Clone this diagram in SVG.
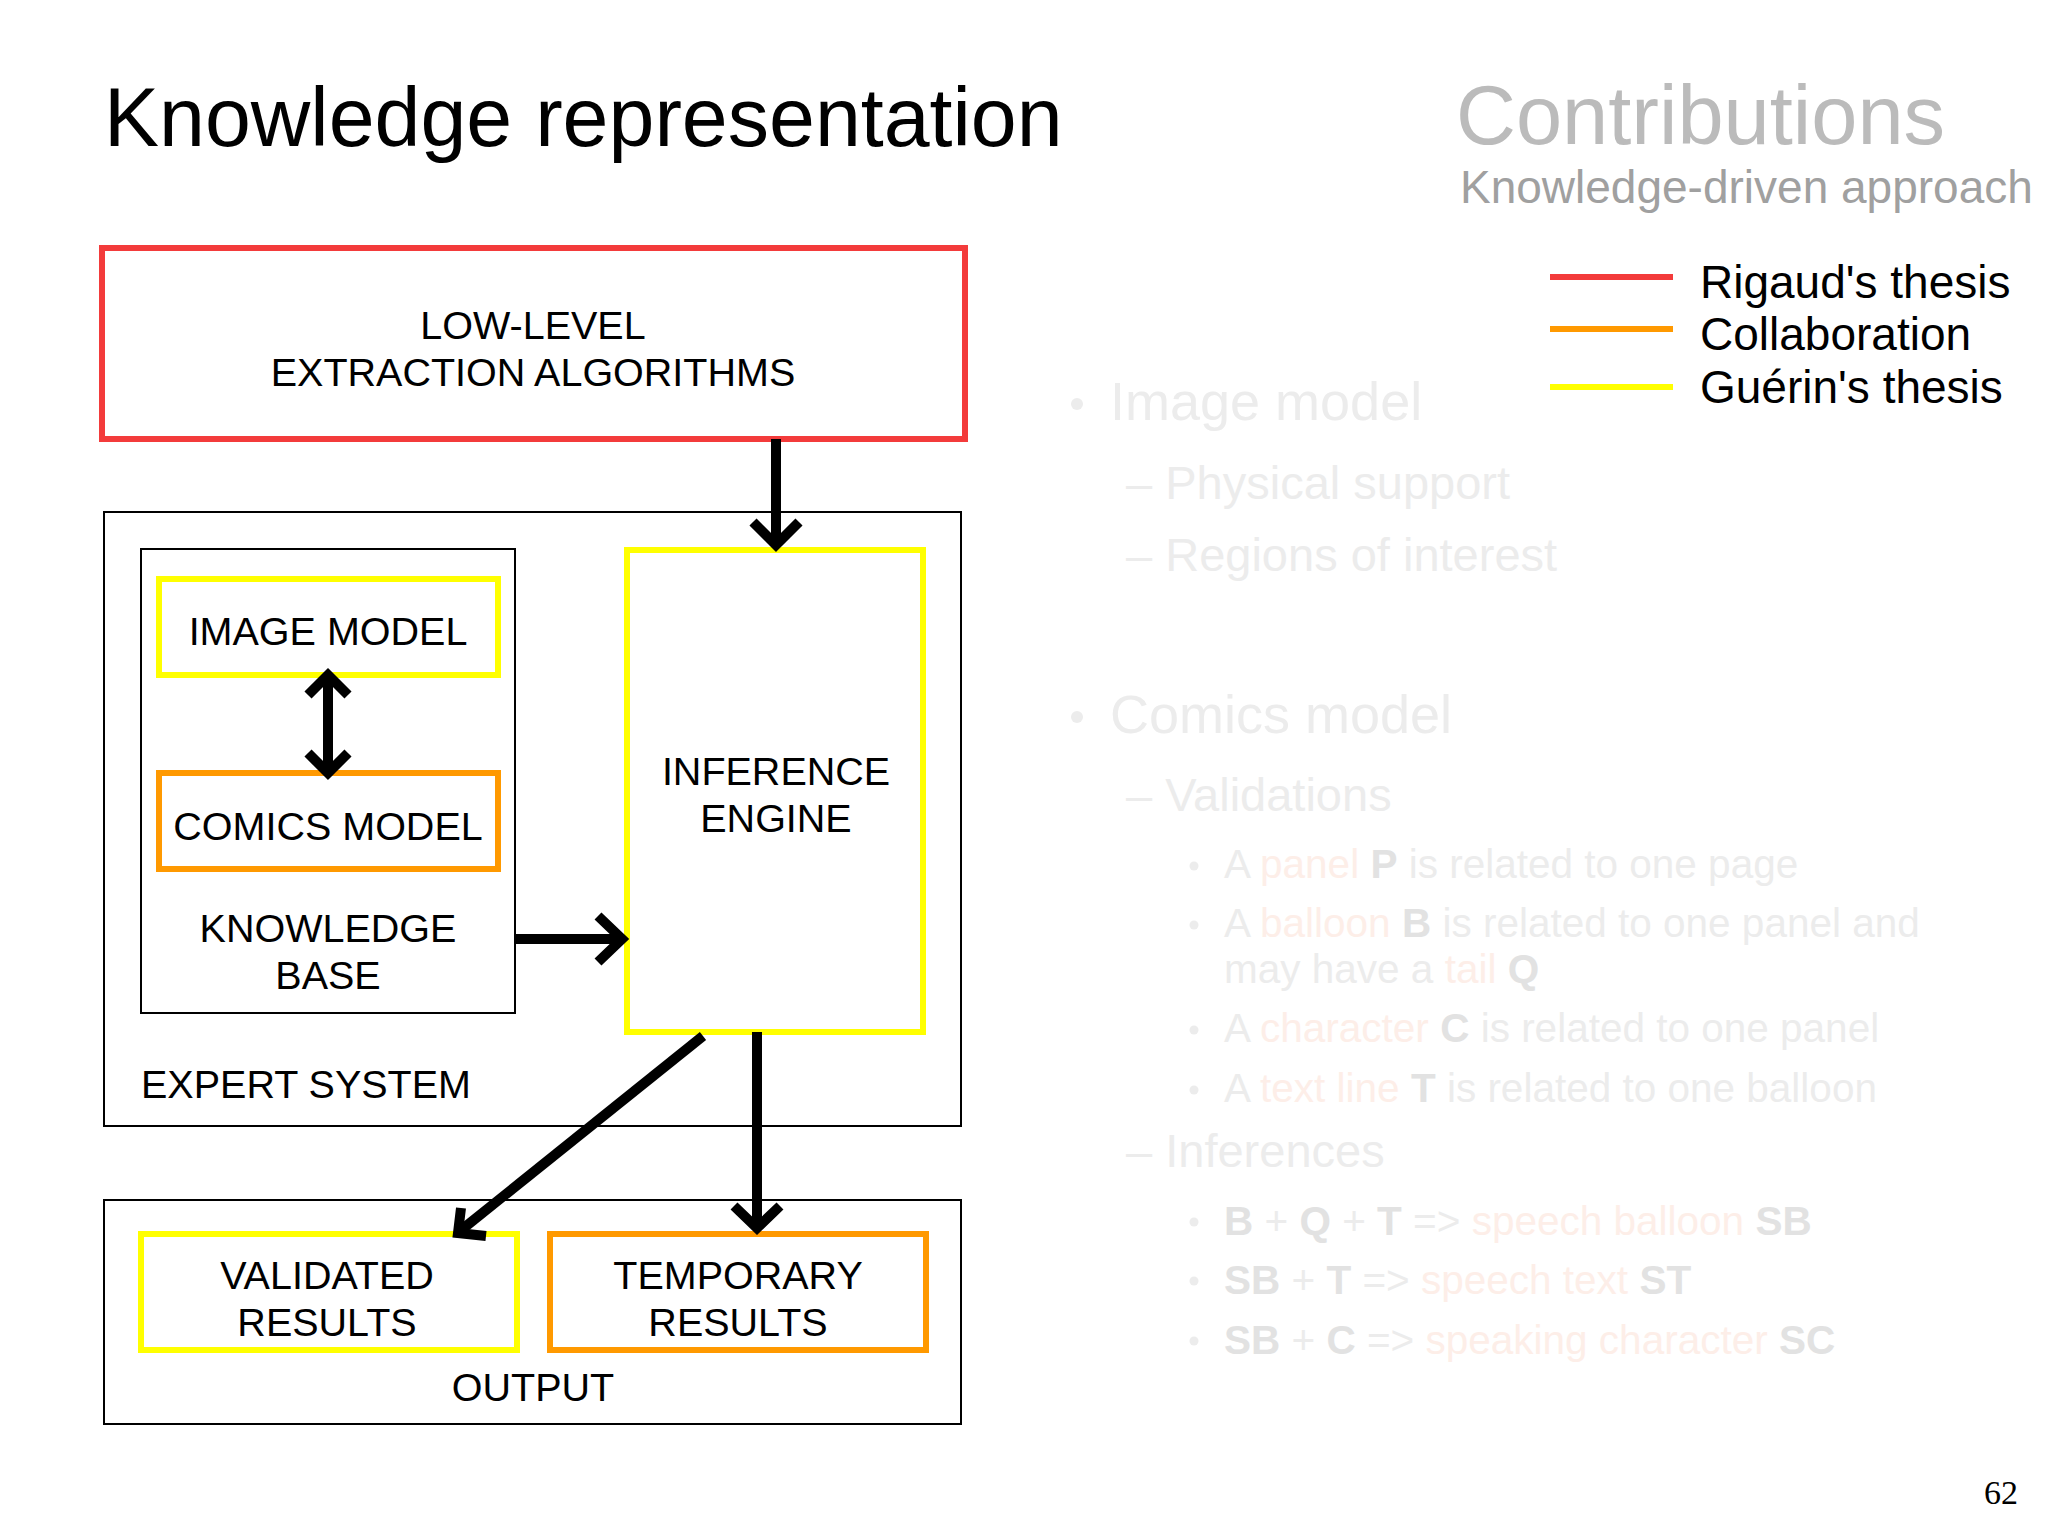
<svg xmlns="http://www.w3.org/2000/svg" width="2048" height="1535" viewBox="0 0 2048 1535">
<defs><style>
text{font-family:"Liberation Sans",Arial,sans-serif}
.lbl{font-size:39.5px;fill:#000;text-anchor:middle}
.thin{fill:#fff;stroke:#000;stroke-width:2}
.red{fill:#fff;stroke:#f33b3b;stroke-width:6}
.yel{fill:#fff;stroke:#ffff00;stroke-width:6}
.org{fill:#fff;stroke:#ff9900;stroke-width:6}
.arr{fill:none;stroke:#000;stroke-width:10}
.f1{fill:#ececec}.fo{fill:#fdeee8}.fb{fill:#e2e2e2;font-weight:bold}
</style></defs>
<rect width="2048" height="1535" fill="#fff"/>
<text x="104" y="146" font-size="82.5">Knowledge representation</text>
<text x="1456" y="144" font-size="83" fill="#bbbbbb">Contributions</text>
<text x="1460" y="203" font-size="46" fill="#a0a0a0">Knowledge-driven approach</text>
<g id="legend">
<line x1="1550" y1="277" x2="1673" y2="277" stroke="#f33b3b" stroke-width="6"/>
<line x1="1550" y1="329" x2="1673" y2="329" stroke="#ff9900" stroke-width="6"/>
<line x1="1550" y1="387" x2="1673" y2="387" stroke="#ffff00" stroke-width="6"/>
<text x="1700" y="298" font-size="46">Rigaud's thesis</text>
<text x="1700" y="350" font-size="46">Collaboration</text>
<text x="1700" y="403" font-size="46">Guérin's thesis</text>
</g>
<g id="faded">
<circle cx="1077" cy="404" r="6" fill="#ececec"/>
<text x="1110" y="420" font-size="54" class="f1">Image model</text>
<text x="1126" y="499" font-size="47" class="f1">–  Physical support</text>
<text x="1126" y="571" font-size="47" class="f1">–  Regions of interest</text>
<circle cx="1077" cy="717" r="6" fill="#ececec"/>
<text x="1110" y="733" font-size="54" class="f1">Comics model</text>
<text x="1126" y="811" font-size="47" class="f1">–  Validations</text>
<g fill="#ececec"><circle cx="1194" cy="866" r="4.5"/><circle cx="1194" cy="925" r="4.5"/><circle cx="1194" cy="1030" r="4.5"/><circle cx="1194" cy="1090" r="4.5"/><circle cx="1194" cy="1222" r="4.5"/><circle cx="1194" cy="1281" r="4.5"/><circle cx="1194" cy="1341" r="4.5"/></g>
<g font-size="40.5">
<text x="1224" y="878" class="f1">A <tspan class="fo">panel</tspan> <tspan class="fb">P</tspan> is related to one page</text>
<text x="1224" y="937" class="f1">A <tspan class="fo">balloon</tspan> <tspan class="fb">B</tspan> is related to one panel and</text>
<text x="1224" y="983" class="f1">may have a <tspan class="fo">tail</tspan> <tspan class="fb">Q</tspan></text>
<text x="1224" y="1042" class="f1">A <tspan class="fo">character</tspan> <tspan class="fb">C</tspan> is related to one panel</text>
<text x="1224" y="1102" class="f1">A <tspan class="fo">text line</tspan> <tspan class="fb">T</tspan> is related to one balloon</text>
</g>
<text x="1126" y="1167" font-size="47" class="f1">–  Inferences</text>
<g font-size="40.5">
<text x="1224" y="1235" class="f1"><tspan class="fb">B</tspan> + <tspan class="fb">Q</tspan> + <tspan class="fb">T</tspan> =&gt; <tspan class="fo">speech balloon</tspan> <tspan class="fb">SB</tspan></text>
<text x="1224" y="1294" class="f1"><tspan class="fb">SB</tspan> + <tspan class="fb">T</tspan> =&gt; <tspan class="fo">speech text</tspan> <tspan class="fb">ST</tspan></text>
<text x="1224" y="1354" class="f1"><tspan class="fb">SB</tspan> + <tspan class="fb">C</tspan> =&gt; <tspan class="fo">speaking character</tspan> <tspan class="fb">SC</tspan></text>
</g>
</g>
<g id="expert-system"><rect class="thin" x="104" y="512" width="857" height="614"/>
<text x="141" y="1098" font-size="39.5">EXPERT SYSTEM</text></g>
<g id="output"><rect class="thin" x="104" y="1200" width="857" height="224"/>
<text class="lbl" x="533" y="1401">OUTPUT</text></g>
<g id="low-level"><rect class="red" x="102" y="248" width="863" height="191"/>
<text class="lbl" x="533" y="339">LOW-LEVEL</text><text class="lbl" x="533" y="386">EXTRACTION ALGORITHMS</text></g>
<g id="knowledge-base"><rect class="thin" x="141" y="549" width="374" height="464"/>
<text class="lbl" x="328" y="942">KNOWLEDGE</text><text class="lbl" x="328" y="989">BASE</text></g>
<g id="image-model"><rect class="yel" x="159" y="579" width="339" height="96"/>
<text class="lbl" x="328" y="645">IMAGE MODEL</text></g>
<g id="comics-model"><rect class="org" x="159" y="773" width="339" height="96"/>
<text class="lbl" x="328" y="840">COMICS MODEL</text></g>
<g id="inference-engine"><rect class="yel" x="627" y="550" width="296" height="482"/>
<text class="lbl" x="776" y="785">INFERENCE</text><text class="lbl" x="776" y="832">ENGINE</text></g>
<g id="validated"><rect class="yel" x="141" y="1234" width="376" height="116"/>
<text class="lbl" x="327" y="1289">VALIDATED</text><text class="lbl" x="327" y="1336">RESULTS</text></g>
<g id="temporary"><rect class="org" x="550" y="1234" width="376" height="116"/>
<text class="lbl" x="738" y="1289">TEMPORARY</text><text class="lbl" x="738" y="1336">RESULTS</text></g>
<g id="connectors">
<line class="arr" x1="776" y1="439" x2="776" y2="545"/>
<polyline class="arr" points="753,522 776,545 799,522"/>
<line class="arr" x1="328" y1="675" x2="328" y2="773"/>
<polyline class="arr" points="308,695 328,675 348,695"/>
<polyline class="arr" points="308,753 328,773 348,753"/>
<line class="arr" x1="515" y1="939" x2="622" y2="939"/>
<polyline class="arr" points="598,916 622,939 598,962"/>
<line class="arr" x1="703" y1="1036" x2="460" y2="1231"/>
<polyline class="arr" points="461,1208 458,1233 486,1236"/>
<line class="arr" x1="757" y1="1032" x2="757" y2="1228"/>
<polyline class="arr" points="734,1206 757,1228 780,1206"/>
</g>
<text x="2018" y="1504" font-size="34" text-anchor="end" style="font-family:'Liberation Serif',serif">62</text>
</svg>
